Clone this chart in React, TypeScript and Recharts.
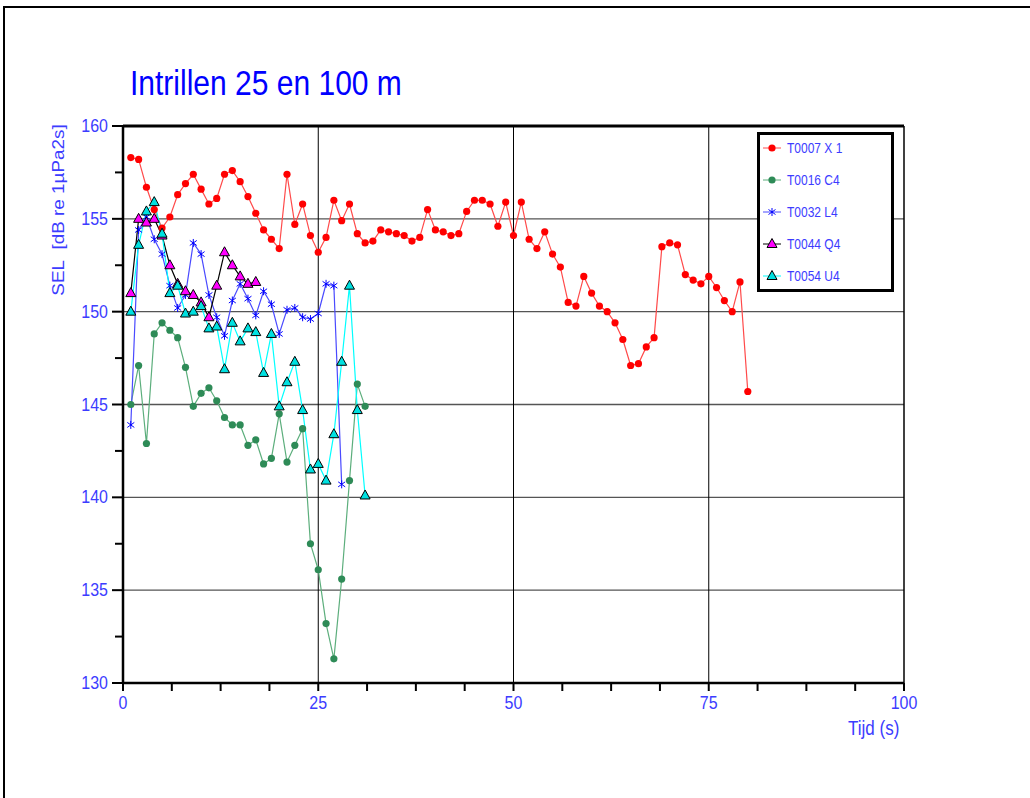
import React from 'react';
import { LineChart, Line, XAxis, YAxis, CartesianGrid, ReferenceLine } from 'recharts';

// Tijd (s) per meting
const tijd = [
  1, 2, 3, 4, 5, 6, 7, 8, 9, 10, 11, 12, 13, 14, 15, 16, 17, 18, 19, 20,
  21, 22, 23, 24, 25, 26, 27, 28, 29, 30, 31, 32, 33, 34, 35, 36, 37, 38, 39, 40,
  41, 42, 43, 44, 45, 46, 47, 48, 49, 50, 51, 52, 53, 54, 55, 56, 57, 58, 59, 60,
  61, 62, 63, 64, 65, 66, 67, 68, 69, 70, 71, 72, 73, 74, 75, 76, 77, 78, 79, 80,
];

// SEL [dB re 1µPa2s] per sensor
const t0007 = [
  158.3, 158.2, 156.7, 155.5, 154.5, 155.1, 156.3, 156.9, 157.4, 156.6,
  155.8, 156.1, 157.4, 157.6, 157.0, 156.2, 155.3, 154.4, 153.9, 153.4,
  157.4, 154.7, 155.8, 154.1, 153.2, 154.0, 156.0, 154.9, 155.8, 154.2,
  153.7, 153.8, 154.4, 154.3, 154.2, 154.1, 153.8, 154.0, 155.5, 154.4,
  154.3, 154.1, 154.2, 155.4, 156.0, 156.0, 155.8, 154.6, 155.9, 154.1,
  155.9, 153.9, 153.4, 154.3, 153.1, 152.4, 150.5, 150.3, 151.9, 151.0,
  150.3, 150.0, 149.4, 148.5, 147.1, 147.2, 148.1, 148.6, 153.5, 153.7,
  153.6, 152.0, 151.7, 151.5, 151.9, 151.3, 150.6, 150.0, 151.6, 145.7,
];
const t0016 = [
  145.0, 147.1, 142.9, 148.8, 149.4, 149.0, 148.6, 147.0, 144.9, 145.6,
  145.9, 145.2, 144.3, 143.9, 143.9, 142.8, 143.1, 141.8, 142.1, 144.5,
  141.9, 142.8, 143.7, 137.5, 136.1, 133.2, 131.3, 135.6, 140.9, 146.1,
  144.9,
];
const t0032 = [
  143.9, 154.4, 155.1, 153.9, 153.1, 151.4, 150.2, 150.9, 153.7, 153.1,
  150.9, 149.7, 148.7, 150.6, 151.5, 150.7, 149.8, 151.1, 150.4, 148.8,
  150.1, 150.2, 149.7, 149.6, 149.9, 151.5, 151.4, 140.7,
];
const t0044 = [
  151.0, 155.0, 154.8, 155.0, 154.1, 152.5, 151.5, 151.1, 150.9, 150.5,
  149.7, 151.4, 153.2, 152.5, 151.9, 151.5, 151.6,
];
const t0054 = [
  150.0, 153.6, 155.4, 155.9, 154.2, 151.0, 151.4, 149.9, 150.0, 150.3,
  149.1, 149.2, 146.9, 149.4, 148.4, 149.1, 148.9, 146.7, 148.8, 144.9,
  146.2, 147.3, 144.7, 141.5, 141.8, 140.9, 143.4, 147.3, 151.4, 144.7,
  140.1,
];

const xTicks = [0, 6.25, 12.5, 18.75, 25, 31.25, 37.5, 43.75, 50, 56.25, 62.5, 68.75, 75, 81.25, 87.5, 93.75, 100];
const yTicks = [130, 132.5, 135, 137.5, 140, 142.5, 145, 147.5, 150, 152.5, 155, 157.5, 160];

type Shape = 'circle' | 'star' | 'triangle';

const series: { key: string; name: string; values: number[]; line: string; fill: string; shape: Shape }[] = [
  { key: 'x1', name: 'T0007 X 1', values: t0007, line: '#ff4a4a', fill: '#ff0000', shape: 'circle' },
  { key: 'c4', name: 'T0016 C4', values: t0016, line: '#5cae7c', fill: '#2e8b57', shape: 'circle' },
  { key: 'l4', name: 'T0032 L4', values: t0032, line: '#4a4aff', fill: '#0000ff', shape: 'star' },
  { key: 'q4', name: 'T0044 Q4', values: t0044, line: '#000000', fill: '#ff00ff', shape: 'triangle' },
  { key: 'u4', name: 'T0054 U4', values: t0054, line: '#00ffff', fill: '#00e0e0', shape: 'triangle' },
];

const data = tijd.map((t, i) => {
  const row: Record<string, number> = { t };
  series.forEach((s) => {
    if (i < s.values.length) row[s.key] = s.values[i];
  });
  return row;
});

const LABEL = '#3c3cff';
const FONT = 'Arial, "Liberation Sans", sans-serif';
const STRETCH = 1.18;

function Marker({ shape, cx, cy, fill }: { shape: Shape; cx: number; cy: number; fill: string }) {
  if (shape === 'circle') return <circle cx={cx} cy={cy} r={3.6} fill={fill} />;
  if (shape === 'star')
    return (
      <g stroke={fill} strokeWidth={1}>
        <line x1={cx} y1={cy - 4} x2={cx} y2={cy + 4} />
        <line x1={cx - 3.5} y1={cy - 2.5} x2={cx + 3.5} y2={cy + 2.5} />
        <line x1={cx - 3.5} y1={cy + 2.5} x2={cx + 3.5} y2={cy - 2.5} />
      </g>
    );
  return (
    <polygon
      points={`${cx},${cy - 5.5} ${cx - 5},${cy + 3.5} ${cx + 5},${cy + 3.5}`}
      fill={fill}
      stroke="#000"
      strokeWidth={1}
    />
  );
}

const makeDot = (shape: Shape, fill: string) => (props: any) => {
  const { cx, cy, index } = props;
  if (cx == null || cy == null || Number.isNaN(cy)) return <g key={`d${index}`} />;
  return <Marker key={`d${index}`} shape={shape} cx={cx} cy={cy} fill={fill} />;
};

const XTick = (props: any) => {
  const { x, y, payload } = props;
  if (payload.value % 25 !== 0) return <g />;
  return (
    <text
      transform={`translate(${x},${y + 13}) scale(1,${STRETCH})`}
      textAnchor="middle"
      fill={LABEL}
      fontSize={16}
      fontFamily={FONT}
    >
      {payload.value}
    </text>
  );
};

const YTick = (props: any) => {
  const { x, y, payload } = props;
  const axisX = x + 13;
  const major = payload.value % 5 === 0;
  return (
    <g>
      <line x1={axisX - (major ? 11 : 8)} y1={y} x2={axisX} y2={y} stroke="#000" strokeWidth={2} />
      {major && (
        <text
          transform={`translate(${x - 2},${y + 6}) scale(1,${STRETCH})`}
          textAnchor="end"
          fill={LABEL}
          fontSize={16}
          fontFamily={FONT}
        >
          {payload.value}
        </text>
      )}
    </g>
  );
};

function LegendBox() {
  return (
    <div
      style={{
        position: 'absolute',
        left: 757,
        top: 132,
        width: 137,
        height: 160,
        boxSizing: 'border-box',
        border: '3px solid #000',
        background: '#fff',
      }}
    >
      <svg width={131} height={154} style={{ display: 'block' }}>
        {series.map((s, i) => {
          const cy = 13 + i * 32;
          return (
            <g key={s.key}>
              <line x1={3} y1={cy} x2={21} y2={cy} stroke={s.line} strokeWidth={1} />
              <Marker shape={s.shape} cx={12} cy={cy} fill={s.fill} />
              <text
                transform={`translate(27,${cy + 5}) scale(1,${STRETCH})`}
                fill={LABEL}
                fontSize={12}
                fontFamily={FONT}
              >
                {s.name}
              </text>
            </g>
          );
        })}
      </svg>
    </div>
  );
}

export default function App() {
  return (
    <div
      style={{
        position: 'fixed',
        left: 0,
        top: 0,
        width: 1030,
        height: 798,
        background: '#fff',
        overflow: 'hidden',
        fontFamily: FONT,
      }}
    >
      <div
        style={{
          position: 'absolute',
          left: 3,
          top: 6,
          width: 1040,
          height: 800,
          borderLeft: '2px solid #000',
          borderTop: '2px solid #000',
        }}
      />
      <div style={{ position: 'absolute', left: 0, top: 0 }}>
        <LineChart width={1030} height={798} data={data} margin={{ top: 126, right: 126, bottom: 75, left: 63 }}>
          <CartesianGrid horizontal vertical={false} horizontalValues={[135, 140, 145, 150, 155]} stroke="#555" strokeWidth={1.4} />
          <CartesianGrid horizontal={false} vertical verticalValues={[25, 50, 75]} stroke="#000" strokeWidth={1} />
          <XAxis
            dataKey="t"
            type="number"
            domain={[0, 100]}
            ticks={xTicks}
            allowDataOverflow
            tickSize={8}
            tickMargin={5}
            tickLine={{ stroke: '#000', strokeWidth: 2 }}
            axisLine={{ stroke: '#000', strokeWidth: 2.5 }}
            tick={<XTick />}
            height={40}
            interval={0}
          />
          <YAxis
            type="number"
            domain={[130, 160]}
            ticks={yTicks}
            allowDataOverflow
            tickSize={10}
            tickMargin={3}
            tickLine={false}
            axisLine={{ stroke: '#000', strokeWidth: 2.5 }}
            tick={<YTick />}
            width={60}
            interval={0}
          />
          <ReferenceLine y={160} stroke="#000" strokeWidth={3} />
          <ReferenceLine x={100} stroke="#000" strokeWidth={1.5} />
          {series.map((s) => (
            <Line
              key={s.key}
              type="linear"
              dataKey={s.key}
              name={s.name}
              stroke={s.line}
              strokeWidth={1.2}
              dot={makeDot(s.shape, s.fill)}
              activeDot={false}
              isAnimationActive={false}
            />
          ))}
        </LineChart>
      </div>
      <div
        style={{
          position: 'absolute',
          left: 130,
          top: 63,
          fontSize: 30,
          color: '#0000ff',
          whiteSpace: 'nowrap',
          transform: `scaleY(${STRETCH})`,
          transformOrigin: 'top left',
        }}
      >
        Intrillen 25 en 100 m
      </div>
      <svg style={{ position: 'absolute', left: 0, top: 0 }} width={120} height={400}>
        <text
          transform={`translate(64,210) rotate(-90) scale(${STRETCH},1)`}
          textAnchor="middle"
          fill={LABEL}
          fontSize={16}
          fontFamily={FONT}
        >
          {'SEL\u00a0\u00a0[dB re 1µPa2s]'}
        </text>
      </svg>
      <div
        style={{
          position: 'absolute',
          left: 848,
          top: 718,
          fontSize: 17,
          lineHeight: 1,
          color: LABEL,
          whiteSpace: 'nowrap',
          transform: `scaleY(${STRETCH})`,
          transformOrigin: 'top left',
        }}
      >
        Tijd (s)
      </div>
      <LegendBox />
    </div>
  );
}
